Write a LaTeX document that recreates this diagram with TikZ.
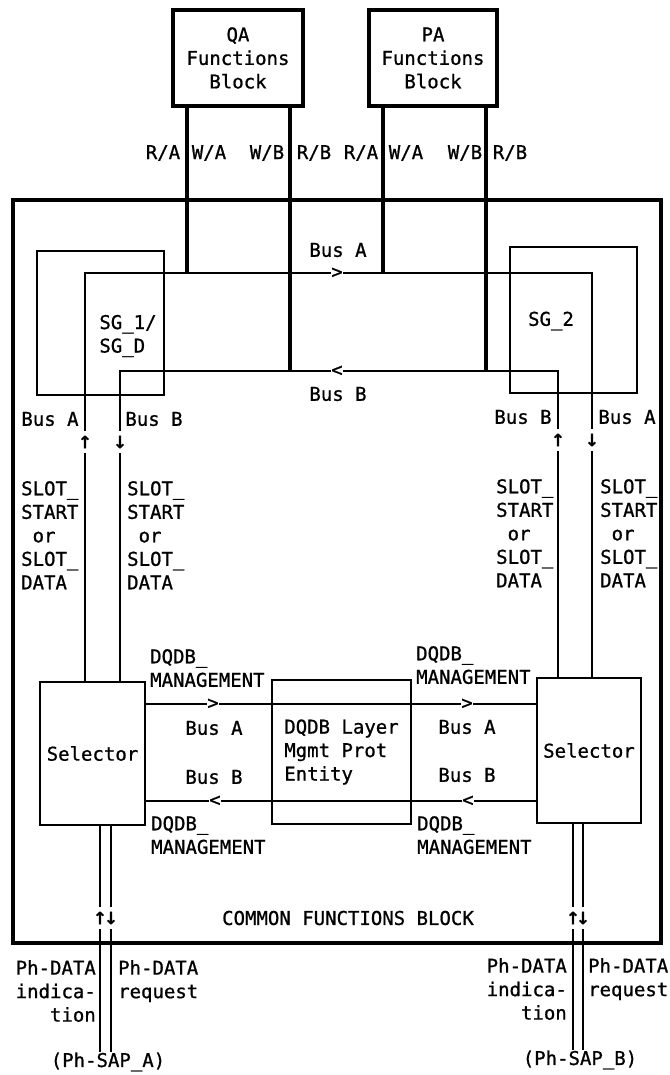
\documentclass[tikz,border=0pt]{standalone}
\usepackage{fontspec}
\setmonofont[FakeBold=0.9]{DejaVu Sans Mono}
\usetikzlibrary{positioning}
\newcommand{\lblfont}{\fontsize{19}{23.5}\selectfont\ttfamily}
\newcommand{\dirfont}{\fontsize{23}{23}\selectfont\ttfamily}
\tikzset{
  blockbox/.style={draw,line width=3.2pt,minimum width=130pt,minimum height=96pt,
    align=center,font=\lblfont,inner sep=0pt},
  framebox/.style={draw,line width=3.6pt,minimum width=648pt,minimum height=743pt},
  plainbox/.style={draw,line width=1.5pt,align=left,font=\lblfont,inner sep=0pt},
  lbl/.style={font=\lblfont,inner sep=0pt,align=left},
  dirmark/.style={font=\dirfont,inner xsep=0.5pt,inner ysep=5pt},
  busmark/.style={font=\lblfont,inner sep=0.5pt},
  busline/.style={line width=1.5pt},
  rwline/.style={line width=3.2pt}
}
\begin{document}
\begin{tikzpicture}[x=1pt,y=-1pt]
  \useasboundingbox (0,0) rectangle (669,1075);
  % function blocks
  \node[blockbox] (qa) at (238,58) {QA\\Functions\\Block};
  \node[blockbox,minimum width=128pt] (pa) at (433,58) {PA\\Functions\\Block};
  \node[framebox] (cfb) at (337,571.5) {};
  \node[lbl] (cfblbl) at (348,918) {COMMON FUNCTIONS BLOCK};

  % slot generators
  \node[plainbox,minimum width=127pt,minimum height=144pt] (sg1) at (100.5,323) {};
  \node[plainbox,minimum width=127pt,minimum height=146pt] (sg2) at (573.5,320) {};
  \node[lbl] (sg1lbl) at (128,336) {SG\_1/\\SG\_D};
  \node[lbl] (sg2lbl) at (551,321) {SG\_2};

  % selectors and layer management
  \node[plainbox,align=center,minimum width=105pt,minimum height=143pt] (selA) at (92.5,753.5) {Selector};
  \node[plainbox,align=center,minimum width=104pt,minimum height=145pt] (selB) at (589,750.5) {Selector};
  \node[plainbox,minimum width=139pt,minimum height=144pt] (lme) at (341.5,752) {DQDB Layer\\Mgmt Prot\\Entity};

  % bus corners and taps
  \coordinate (aL) at (85,273);
  \coordinate (aR) at (592,273);
  \coordinate (bL) at (120,371);
  \coordinate (bR) at (558,371);
  \coordinate (qRA) at (187,273);
  \coordinate (qRB) at (290,371);
  \coordinate (pRA) at (383,273);
  \coordinate (pRB) at (486,371);

  \node[busmark] (arrA) at (337,273) {>};
  \node[busmark] (arrB) at (337,371) {<};
  \node[dirmark] (upAL) at (85,442) {↑};
  \node[dirmark] (dnBL) at (120,442) {↓};
  \node[dirmark] (upBR) at (558,440) {↑};
  \node[dirmark] (dnAR) at (592,440) {↓};

  \draw[busline] (selA.north -| aL) -- (upAL) -- (aL) -- (arrA) -- (aR) -- (dnAR) -- (selB.north -| aR);
  \draw[busline] (selB.north -| bR) -- (upBR) -- (bR) -- (arrB) -- (bL) -- (dnBL) -- (selA.north -| bL);

  \draw[rwline] (qa.south -| qRA) -- (qRA);
  \draw[rwline] (qa.south -| qRB) -- (qRB);
  \draw[rwline] (pa.south -| pRA) -- (pRA);
  \draw[rwline] (pa.south -| pRB) -- (pRB);

  % management buses
  \node[busmark] (mA1) at (213,704) {>};
  \node[busmark] (mA2) at (467,704) {>};
  \node[busmark] (mB1) at (215,801) {<};
  \node[busmark] (mB2) at (468,801) {<};
  \draw[busline] (selA.east |- mA1) -- (mA1) -- (mA2) -- (selB.west |- mA2);
  \draw[busline] (selB.west |- mB2) -- (mB2) -- (mB1) -- (selA.east |- mB1);

  % physical SAPs
  \node[lbl] (sapA) at (108,1062) {(Ph-SAP\_A)};
  \node[lbl] (sapB) at (580,1060) {(Ph-SAP\_B)};
  \node[dirmark] (upPA) at (100,918) {↑};
  \node[dirmark] (dnPA) at (111,918) {↓};
  \node[dirmark] (upPB) at (573,918) {↑};
  \node[dirmark] (dnPB) at (583,918) {↓};
  \draw[busline] (selA.south -| upPA) -- (upPA) -- (sapA.north -| upPA);
  \draw[busline] (selA.south -| dnPA) -- (dnPA) -- (sapA.north -| dnPA);
  \draw[busline] (selB.south -| upPB) -- (upPB) -- (sapB.north -| upPB);
  \draw[busline] (selB.south -| dnPB) -- (dnPB) -- (sapB.north -| dnPB);

  % labels
  \node[lbl] (qra) at (163,153) {R/A};
  \node[lbl] (qwa) at (209,153) {W/A};
  \node[lbl] (qwb) at (267,153) {W/B};
  \node[lbl] (qrb) at (314,153) {R/B};
  \node[lbl] (pra) at (361,153) {R/A};
  \node[lbl] (pwa) at (406,153) {W/A};
  \node[lbl] (pwb) at (465,153) {W/B};
  \node[lbl] (prb) at (510,153) {R/B};

  \node[lbl] (busAtop) at (338,250) {Bus A};
  \node[lbl] (busBtop) at (338,394) {Bus B};
  \node[lbl] (busAL) at (50,419) {Bus A};
  \node[lbl] (busBL) at (154,419) {Bus B};
  \node[lbl] (busBR) at (523,417) {Bus B};
  \node[lbl] (busAR) at (627,417) {Bus A};

  \node[lbl,anchor=north west] (slotAL) at (21,481) {SLOT\_\\START\\\phantom{S}or\\SLOT\_\\DATA};
  \node[lbl,anchor=north west] (slotBL) at (127,481) {SLOT\_\\START\\\phantom{S}or\\SLOT\_\\DATA};
  \node[lbl,anchor=north west] (slotBR) at (496,479) {SLOT\_\\START\\\phantom{S}or\\SLOT\_\\DATA};
  \node[lbl,anchor=north west] (slotAR) at (600,479) {SLOT\_\\START\\\phantom{S}or\\SLOT\_\\DATA};

  \node[lbl,anchor=north west] (mgAL) at (150,649) {DQDB\_\\MANAGEMENT};
  \node[lbl,anchor=north west] (mgAR) at (416,646) {DQDB\_\\MANAGEMENT};
  \node[lbl,anchor=north west] (mgBL) at (151,816) {DQDB\_\\MANAGEMENT};
  \node[lbl,anchor=north west] (mgBR) at (417,816) {DQDB\_\\MANAGEMENT};
  \node[lbl] (mbAL) at (214,728) {Bus A};
  \node[lbl] (mbAR) at (467,727) {Bus A};
  \node[lbl] (mbBL) at (214,777) {Bus B};
  \node[lbl] (mbBR) at (467,775) {Bus B};

  \node[lbl,align=right,anchor=north east] (indA) at (96,960) {Ph-DATA\\indica-\\tion};
  \node[lbl,anchor=north west] (reqA) at (118,960) {Ph-DATA\\request};
  \node[lbl,align=right,anchor=north east] (indB) at (567,958) {Ph-DATA\\indica-\\tion};
  \node[lbl,anchor=north west] (reqB) at (588,958) {Ph-DATA\\request};
\end{tikzpicture}
\end{document}
